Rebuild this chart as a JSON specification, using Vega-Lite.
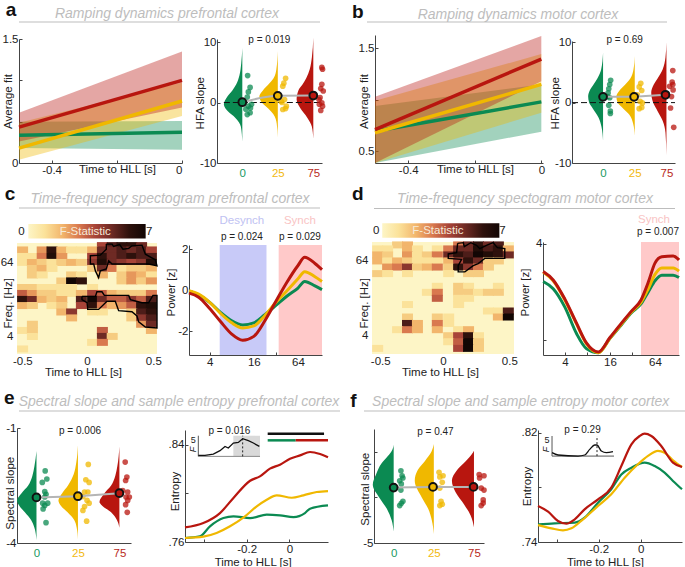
{"$schema":"https://vega.github.io/schema/vega-lite/v6.json","padding":0,"background":"white","columns":4,"spacing":0,"bounds":"flush","resolve":{"scale":{"color":"independent"}},
"datasets":{"e":[]},
"config":{"font":"Liberation Sans","view":{"stroke":null},"legend":{"disable":true},"axis":{"grid":false,"labelFontSize":11.5,"titleFontSize":11.5,"titleFontWeight":"normal","labelColor":"#222","titleColor":"#222","domainColor":"#444","tickColor":"#444","tickSize":-3,"labelPadding":4,"titleBaseline":"middle","titleAlign":"center","labelOverlap":false},"range":{"category":["#0b8a52","#f0b800","#b8160f"],"heatmap":["#fdf5c6","#fbe29a","#f2b56c","#d9794f","#a84438","#6e2a24","#2e110c","#120604"]},"text":{"color":"#222","fontSize":10}},
"concat":[
{"width":185,"height":34,"data":{"values":[{"t":"a","s":"Ramping dynamics prefrontal cortex"}]},"layer":[
{"mark":{"type":"rule","color":"#bdbdbd","strokeWidth":1},"encoding":{"x":{"datum":0,"scale":{"domain":[0,301],"range":[19,320],"nice":false,"zero":false},"axis":null},"x2":{"datum":301},"y":{"datum":21,"scale":{"domain":[34,0],"nice":false,"zero":false},"axis":null}}},
{"mark":{"type":"text","fontSize":14,"fontStyle":"italic","color":"#bdbdbd","baseline":"alphabetic"},"encoding":{"text":{"field":"s"},"x":{"datum":148,"axis":null},"y":{"datum":17,"axis":null}}},
{"mark":{"type":"text","fontSize":19,"fontWeight":"bold","color":"#111","baseline":"alphabetic"},"encoding":{"text":{"field":"t"},"x":{"datum":-8,"axis":null},"y":{"datum":14.5,"axis":null}}}]},
{"width":1,"height":1,"data":{"name":"e"},"mark":"text"},
{"width":166,"height":34,"data":{"values":[{"t":"b","s":"Ramping dynamics motor cortex"}]},"layer":[
{"mark":{"type":"rule","color":"#bdbdbd","strokeWidth":1},"encoding":{"x":{"datum":0,"scale":{"domain":[0,300],"range":[-5,295],"nice":false,"zero":false},"axis":null},"x2":{"datum":300},"y":{"datum":21,"scale":{"domain":[34,0],"nice":false,"zero":false},"axis":null}}},
{"mark":{"type":"text","fontSize":14,"fontStyle":"italic","color":"#bdbdbd","baseline":"alphabetic"},"encoding":{"text":{"field":"s"},"x":{"datum":151,"axis":null},"y":{"datum":18,"axis":null}}},
{"mark":{"type":"text","fontSize":19,"fontWeight":"bold","color":"#111","baseline":"alphabetic"},"encoding":{"text":{"field":"t"},"x":{"datum":-9.3,"axis":null},"y":{"datum":17.3,"axis":null}}}]},
{"width":1,"height":1,"data":{"name":"e"},"mark":"text"},

{"width":185,"height":128,"data":{"values":[
{"g":0,"t":-0.5,"v":0.336,"lo":0.18,"hi":0.5},{"g":0,"t":0,"v":0.373,"lo":0.16,"hi":0.507},
{"g":25,"t":-0.5,"v":0.18,"lo":0.04,"hi":0.486},{"g":25,"t":0,"v":0.75,"lo":0.57,"hi":0.973},
{"g":75,"t":-0.5,"v":0.434,"lo":0.26,"hi":0.608},{"g":75,"t":0,"v":1.0,"lo":0.67,"hi":1.35}]},
"layer":[
{"mark":{"type":"area","opacity":0.38},"encoding":{"x":{"field":"t","type":"quantitative","scale":{"domain":[-0.5,0],"range":[19,182],"nice":false,"zero":false},"axis":{"values":[-0.4,-0.2,0],"labelExpr":"datum.value==-0.2?'':datum.value==0?'0':'-0.4'","title":"Time to HLL [s]","titleX":117,"titleY":6.5}},"y":{"field":"lo","type":"quantitative","scale":{"domain":[0,1.5],"range":[128,4],"nice":false,"zero":false},"axis":{"offset":-19,"values":[0,0.5,1,1.5],"labelExpr":"datum.value==1.5?'1.5':datum.value==0?'0':''","title":"Average fit","titleX":-10.7,"titleY":66}},"y2":{"field":"hi"},"color":{"field":"g","type":"nominal"}}},
{"mark":{"type":"line","strokeWidth":3.5},"encoding":{"x":{"field":"t","type":"quantitative"},"y":{"field":"v","type":"quantitative"},"color":{"field":"g","type":"nominal"}}}]},
{"width":187,"height":128,"layer":[
{"data":{"values":[
{"g":0,"c":0,"l":0,"y":-6.5},{"g":0,"c":0,"l":-0.04,"y":-4},{"g":0,"c":0,"l":-0.2,"y":-2.5},{"g":0,"c":0,"l":-0.4,"y":-1.5},{"g":0,"c":0,"l":-0.52,"y":-0.3},{"g":0,"c":0,"l":-0.42,"y":1},{"g":0,"c":0,"l":-0.28,"y":2},{"g":0,"c":0,"l":-0.17,"y":3},{"g":0,"c":0,"l":-0.08,"y":4.5},{"g":0,"c":0,"l":-0.03,"y":6.5},{"g":0,"c":0,"l":0,"y":9},
{"g":25,"c":1,"l":1,"y":-5.8},{"g":25,"c":1,"l":0.97,"y":-3.5},{"g":25,"c":1,"l":0.88,"y":-2},{"g":25,"c":1,"l":0.73,"y":-1},{"g":25,"c":1,"l":0.55,"y":0},{"g":25,"c":1,"l":0.48,"y":1},{"g":25,"c":1,"l":0.58,"y":2},{"g":25,"c":1,"l":0.74,"y":3},{"g":25,"c":1,"l":0.88,"y":4},{"g":25,"c":1,"l":0.96,"y":5.5},{"g":25,"c":1,"l":1,"y":8.5},
{"g":75,"c":2,"l":2,"y":-6},{"g":75,"c":2,"l":1.96,"y":-4},{"g":75,"c":2,"l":1.83,"y":-2.5},{"g":75,"c":2,"l":1.64,"y":-1},{"g":75,"c":2,"l":1.53,"y":0.5},{"g":75,"c":2,"l":1.58,"y":2},{"g":75,"c":2,"l":1.7,"y":3},{"g":75,"c":2,"l":1.8,"y":4},{"g":75,"c":2,"l":1.9,"y":5.5},{"g":75,"c":2,"l":1.96,"y":7.5},{"g":75,"c":2,"l":2,"y":10.7}]},
"mark":{"type":"area","orient":"horizontal","interpolate":"monotone"},"encoding":{"y":{"field":"y","type":"quantitative","scale":{"domain":[-10,10.5],"range":[128,4],"nice":false,"zero":false},"axis":{"offset":-32,"values":[-10,-5,0,5,10],"labelExpr":"''+datum.value","title":"HFA slope","titleX":-16.3,"titleY":67.7}},"x":{"field":"l","type":"quantitative","scale":{"domain":[-0.713,2.245],"range":[32,137],"nice":false,"zero":false},"axis":{"values":[0,1,2],"ticks":false,"title":null,"labelExpr":"[0,25,75][datum.value]","labelColor":{"condition":[{"test":"datum.value==0","value":"#199a63"},{"test":"datum.value==1","value":"#f2b90f"}],"value":"#b92a22"}}},"x2":{"field":"c"},"color":{"field":"g","type":"nominal"}}},
{"data":{"values":[{}]},"mark":{"type":"rule","strokeDash":[6,3],"color":"#111","strokeWidth":1},"encoding":{"y":{"datum":0},"x":{"datum":-0.52},"x2":{"datum":2.245}}},
{"data":{"values":[
{"g":0,"x":0.15,"y":4.45},{"g":0,"x":0.22,"y":2.5},{"g":0,"x":0.17,"y":1.75},{"g":0,"x":0.14,"y":0.9},{"g":0,"x":0.26,"y":-0.3},{"g":0,"x":0.17,"y":-0.6},{"g":0,"x":0.23,"y":-0.9},{"g":0,"x":0.14,"y":-2},{"g":0,"x":0.22,"y":-1.7},{"g":0,"x":0.1,"y":-1.1},
{"g":25,"x":1.22,"y":4},{"g":25,"x":1.17,"y":3.2},{"g":25,"x":1.14,"y":2.7},{"g":25,"x":1.19,"y":0.5},{"g":25,"x":1.12,"y":0},{"g":25,"x":1.24,"y":-0.6},{"g":25,"x":1.14,"y":-1.15},{"g":25,"x":1.22,"y":-1},{"g":25,"x":1.09,"y":0.2},
{"g":75,"x":2.24,"y":5.8},{"g":75,"x":2.26,"y":5.5},{"g":75,"x":2.24,"y":3},{"g":75,"x":2.21,"y":2.3},{"g":75,"x":2.28,"y":1.9},{"g":75,"x":2.19,"y":0.8},{"g":75,"x":2.24,"y":-0.05},{"g":75,"x":2.17,"y":-0.3},{"g":75,"x":2.26,"y":-0.6},{"g":75,"x":2.21,"y":-1.3},{"g":75,"x":2.16,"y":0.5}]},
"mark":{"type":"circle","size":32,"opacity":0.75},"encoding":{"x":{"field":"x","type":"quantitative"},"y":{"field":"y","type":"quantitative"},"color":{"field":"g","type":"nominal"}}},
{"data":{"values":[{"g":0,"x":0,"y":0.05},{"g":25,"x":1,"y":1.1},{"g":75,"x":2,"y":1.15}]},"layer":[
{"mark":{"type":"line","color":"#b5b5b5","strokeWidth":2,"interpolate":"monotone"},"encoding":{"x":{"field":"x","type":"quantitative"},"y":{"field":"y","type":"quantitative"}}},
{"mark":{"type":"circle","size":60,"stroke":"#111","strokeWidth":2,"opacity":1},"encoding":{"x":{"field":"x","type":"quantitative"},"y":{"field":"y","type":"quantitative"},"color":{"field":"g","type":"nominal"}}}]},
{"data":{"values":[{"p":"p = 0.019"}]},"mark":{"type":"text"},"encoding":{"text":{"field":"p"},"x":{"datum":0.76},"y":{"datum":10.27}}}]},
{"width":166,"height":128,"data":{"values":[
{"g":0,"t":-0.5,"v":0.695,"lo":0.386,"hi":0.94},{"g":0,"t":0,"v":0.98,"lo":0.69,"hi":1.15},
{"g":25,"t":-0.5,"v":0.68,"lo":0.386,"hi":0.99},{"g":25,"t":0,"v":1.15,"lo":0.875,"hi":1.445},
{"g":75,"t":-0.5,"v":0.71,"lo":0.386,"hi":1.03},{"g":75,"t":0,"v":1.396,"lo":1.18,"hi":1.62}]},
"layer":[
{"mark":{"type":"area","opacity":0.38},"encoding":{"x":{"field":"t","type":"quantitative","scale":{"domain":[-0.5,0.005],"range":[3,171],"nice":false,"zero":false},"axis":{"values":[-0.4,-0.2,0],"labelExpr":"datum.value==-0.2?'':datum.value==0?'0':'-0.4'","title":"Time to HLL [s]","titleX":103,"titleY":6.5}},"y":{"field":"lo","type":"quantitative","scale":{"domain":[0.386,1.63],"range":[128,0],"nice":false,"zero":false},"axis":{"offset":-3,"values":[0.5,1,1.5],"labelExpr":"datum.value==1?'':datum.label","title":"Average fit","titleX":-10.7,"titleY":66}},"y2":{"field":"hi"},"color":{"field":"g","type":"nominal"}}},
{"mark":{"type":"line","strokeWidth":3.5},"encoding":{"x":{"field":"t","type":"quantitative"},"y":{"field":"v","type":"quantitative"},"color":{"field":"g","type":"nominal"}}}]},
{"width":147,"height":128,"layer":[
{"data":{"values":[
{"g":0,"c":0,"l":0,"y":-6.3},{"g":0,"c":0,"l":-0.05,"y":-4},{"g":0,"c":0,"l":-0.14,"y":-2.5},{"g":0,"c":0,"l":-0.32,"y":-1},{"g":0,"c":0,"l":-0.44,"y":0},{"g":0,"c":0,"l":-0.47,"y":1},{"g":0,"c":0,"l":-0.42,"y":2},{"g":0,"c":0,"l":-0.3,"y":3},{"g":0,"c":0,"l":-0.18,"y":4},{"g":0,"c":0,"l":-0.06,"y":5.5},{"g":0,"c":0,"l":0,"y":8.2},
{"g":25,"c":1,"l":1,"y":-5.5},{"g":25,"c":1,"l":0.95,"y":-3.5},{"g":25,"c":1,"l":0.83,"y":-2},{"g":25,"c":1,"l":0.64,"y":-1},{"g":25,"c":1,"l":0.46,"y":0},{"g":25,"c":1,"l":0.42,"y":1},{"g":25,"c":1,"l":0.52,"y":2},{"g":25,"c":1,"l":0.7,"y":3},{"g":25,"c":1,"l":0.86,"y":4},{"g":25,"c":1,"l":0.96,"y":5.5},{"g":25,"c":1,"l":1,"y":7.7},
{"g":75,"c":2,"l":2,"y":-8.7},{"g":75,"c":2,"l":1.97,"y":-5},{"g":75,"c":2,"l":1.88,"y":-3},{"g":75,"c":2,"l":1.73,"y":-1.5},{"g":75,"c":2,"l":1.58,"y":0},{"g":75,"c":2,"l":1.52,"y":1.7},{"g":75,"c":2,"l":1.6,"y":3},{"g":75,"c":2,"l":1.72,"y":4},{"g":75,"c":2,"l":1.88,"y":5.5},{"g":75,"c":2,"l":1.97,"y":7.5},{"g":75,"c":2,"l":2,"y":10}]},
"mark":{"type":"area","orient":"horizontal","interpolate":"monotone"},"encoding":{"y":{"field":"y","type":"quantitative","scale":{"domain":[-10,10.2],"range":[128,6],"nice":false,"zero":false},"axis":{"offset":-34,"values":[-10,-5,0,5,10],"labelExpr":"''+datum.value","title":"HFA slope","titleX":-16.3,"titleY":67.7}},"x":{"field":"l","type":"quantitative","scale":{"domain":[-0.98,2.27],"range":[34,137],"nice":false,"zero":false},"axis":{"values":[0,1,2],"ticks":false,"title":null,"labelExpr":"[0,25,75][datum.value]","labelColor":{"condition":[{"test":"datum.value==0","value":"#199a63"},{"test":"datum.value==1","value":"#f2b90f"}],"value":"#b92a22"}}},"x2":{"field":"c"},"color":{"field":"g","type":"nominal"}}},
{"data":{"values":[{}]},"mark":{"type":"rule","strokeDash":[6,3],"color":"#111","strokeWidth":1},"encoding":{"y":{"datum":0},"x":{"datum":-0.98},"x2":{"datum":2.27}}},
{"data":{"values":[
{"g":0,"x":0.24,"y":3.7},{"g":0,"x":0.21,"y":3},{"g":0,"x":0.18,"y":2.3},{"g":0,"x":0.16,"y":1.6},{"g":0,"x":0.14,"y":1},{"g":0,"x":0.21,"y":0.8},{"g":0,"x":0.18,"y":-0.45},{"g":0,"x":0.23,"y":-1.4},{"g":0,"x":0.23,"y":-1.8},
{"g":25,"x":1.19,"y":3.2},{"g":25,"x":1.14,"y":2.6},{"g":25,"x":1.22,"y":2},{"g":25,"x":1.08,"y":1.3},{"g":25,"x":1.17,"y":0.2},{"g":25,"x":1.24,"y":-0.05},{"g":25,"x":1.22,"y":-0.8},{"g":25,"x":1.14,"y":-1},
{"g":75,"x":2.2,"y":5.3},{"g":75,"x":2.18,"y":3.4},{"g":75,"x":2.2,"y":3},{"g":75,"x":2.1,"y":2.7},{"g":75,"x":2.21,"y":2.1},{"g":75,"x":2.16,"y":1},{"g":75,"x":2.13,"y":-0.9},{"g":75,"x":2.23,"y":-4.1}]},
"mark":{"type":"circle","size":32,"opacity":0.75},"encoding":{"x":{"field":"x","type":"quantitative"},"y":{"field":"y","type":"quantitative"},"color":{"field":"g","type":"nominal"}}},
{"data":{"values":[{"g":0,"x":0,"y":0.95},{"g":25,"x":0.98,"y":0.95},{"g":75,"x":1.97,"y":1.3}]},"layer":[
{"mark":{"type":"line","color":"#b5b5b5","strokeWidth":2},"encoding":{"x":{"field":"x","type":"quantitative"},"y":{"field":"y","type":"quantitative"}}},
{"mark":{"type":"circle","size":60,"stroke":"#111","strokeWidth":2,"opacity":1},"encoding":{"x":{"field":"x","type":"quantitative"},"y":{"field":"y","type":"quantitative"},"color":{"field":"g","type":"nominal"}}}]},
{"data":{"values":[{"p":"p = 0.69"}]},"mark":{"type":"text"},"encoding":{"text":{"field":"p"},"x":{"datum":0.68},"y":{"datum":10.3}}}]},

{"width":185,"height":79,"data":{"values":[{"t":"c","s":"Time-frequency spectogram prefrontal cortex"}]},"layer":[
{"mark":{"type":"rule","color":"#bdbdbd","strokeWidth":1},"encoding":{"x":{"datum":0,"scale":{"domain":[0,301],"range":[19,320],"nice":false,"zero":false},"axis":null},"x2":{"datum":301},"y":{"datum":45,"scale":{"domain":[79,0],"nice":false,"zero":false},"axis":null}}},
{"mark":{"type":"text","fontSize":14,"fontStyle":"italic","color":"#bdbdbd","baseline":"alphabetic"},"encoding":{"text":{"field":"s"},"x":{"datum":151,"axis":null},"y":{"datum":39.7,"axis":null}}},
{"mark":{"type":"text","fontSize":19,"fontWeight":"bold","color":"#111","baseline":"alphabetic"},"encoding":{"text":{"field":"t"},"x":{"datum":-9,"axis":null},"y":{"datum":37,"axis":null}}}]},
{"width":1,"height":1,"data":{"name":"e"},"mark":"text"},
{"width":166,"height":79,"data":{"values":[{"t":"d","s":"Time-frequency spectogram motor cortex"}]},"layer":[
{"mark":{"type":"rule","color":"#bdbdbd","strokeWidth":1},"encoding":{"x":{"datum":0,"scale":{"domain":[0,301],"range":[2,303],"nice":false,"zero":false},"axis":null},"x2":{"datum":301},"y":{"datum":45.5,"scale":{"domain":[79,0],"nice":false,"zero":false},"axis":null}}},
{"mark":{"type":"text","fontSize":14,"fontStyle":"italic","color":"#bdbdbd","baseline":"alphabetic"},"encoding":{"text":{"field":"s"},"x":{"datum":151,"axis":null},"y":{"datum":39.7,"axis":null}}},
{"mark":{"type":"text","fontSize":19,"fontWeight":"bold","color":"#111","baseline":"alphabetic"},"encoding":{"text":{"field":"t"},"x":{"datum":-16.3,"axis":null},"y":{"datum":37,"axis":null}}}]},
{"width":1,"height":1,"data":{"name":"e"},"mark":"text"},

{"width":185,"height":113,"layer":[
{"data":{"values":[{"u":2.07,"w":132.3,"a":-0.5,"b":0.5}]},"mark":{"type":"rect","color":"#fdf5c6"},"encoding":{"x":{"field":"a","type":"quantitative","scale":{"domain":[-0.5,0.5],"range":[17,157],"nice":false,"zero":false},"axis":{"values":[-0.462,0,0.474],"labelExpr":"datum.value<0?'-0.5':datum.value>0?'0.5':'0'","ticks":false,"domain":false,"labelPadding":1,"offset":-1,"title":"Time to HLL [s]","titleX":83,"titleY":18.7}},"x2":{"field":"b"},"y":{"field":"u","type":"quantitative","scale":{"type":"log","base":2,"domain":[2.07,132.3],"range":[112,1],"nice":false,"zero":false},"axis":{"offset":-17,"values":[4,64],"labelExpr":"datum.value","ticks":false,"domain":false,"labelPadding":4,"title":"Freq. [Hz]","titleX":-8.7,"titleY":60.7}},"y2":{"field":"w"}}},
{"data":{"values":[
{"t":0.11,"f":120,"v":4},{"t":0.18,"f":120,"v":5.5},{"t":0.25,"f":120,"v":6},{"t":0.32,"f":120,"v":6},{"t":0.39,"f":120,"v":5},
{"t":-0.46,"f":102,"v":2},{"t":-0.32,"f":102,"v":2.5},{"t":-0.25,"f":102,"v":6},{"t":-0.18,"f":102,"v":2},{"t":-0.11,"f":102,"v":1},{"t":-0.04,"f":102,"v":1},{"t":0.04,"f":102,"v":2},{"t":0.11,"f":102,"v":5},{"t":0.18,"f":102,"v":5},{"t":0.25,"f":102,"v":5.5},{"t":0.32,"f":102,"v":5},{"t":0.39,"f":102,"v":5.5},{"t":0.46,"f":102,"v":4},
{"t":-0.46,"f":80,"v":1},{"t":-0.39,"f":80,"v":1},{"t":-0.32,"f":80,"v":3},{"t":-0.25,"f":80,"v":6.5},{"t":-0.18,"f":80,"v":2.5},{"t":0.04,"f":80,"v":4},{"t":0.11,"f":80,"v":6},{"t":0.18,"f":80,"v":5},{"t":0.25,"f":80,"v":5.5},{"t":0.32,"f":80,"v":6},{"t":0.39,"f":80,"v":5.5},{"t":0.46,"f":80,"v":5.5},
{"t":-0.46,"f":64,"v":1},{"t":-0.39,"f":64,"v":2},{"t":-0.32,"f":64,"v":1.5},{"t":-0.25,"f":64,"v":1},{"t":-0.18,"f":64,"v":1.5},{"t":-0.11,"f":64,"v":2},{"t":-0.04,"f":64,"v":1.5},{"t":0.04,"f":64,"v":4.5},{"t":0.11,"f":64,"v":6.5},{"t":0.18,"f":64,"v":5},{"t":0.25,"f":64,"v":4.5},{"t":0.32,"f":64,"v":4},{"t":0.39,"f":64,"v":4.5},{"t":0.46,"f":64,"v":6.5},
{"t":-0.39,"f":51,"v":1.5},{"t":-0.32,"f":51,"v":2},{"t":-0.25,"f":51,"v":1},{"t":0.04,"f":51,"v":1.5},{"t":0.11,"f":51,"v":5},{"t":0.18,"f":51,"v":3},{"t":0.25,"f":51,"v":1},{"t":0.32,"f":51,"v":1.5},{"t":0.39,"f":51,"v":1.5},{"t":0.46,"f":51,"v":2},
{"t":-0.39,"f":40,"v":1.5},{"t":-0.32,"f":40,"v":1},{"t":-0.11,"f":40,"v":1.5},{"t":-0.04,"f":40,"v":1},{"t":0.11,"f":40,"v":2},{"t":0.25,"f":40,"v":1.5},{"t":0.32,"f":40,"v":2.5},{"t":0.39,"f":40,"v":2},{"t":0.46,"f":40,"v":1},
{"t":-0.18,"f":32,"v":1.5},{"t":-0.11,"f":32,"v":7},{"t":-0.04,"f":32,"v":6},{"t":0.25,"f":32,"v":1.5},{"t":0.32,"f":32,"v":2.5},{"t":0.39,"f":32,"v":1.5},{"t":0.46,"f":32,"v":2.5},
{"t":-0.46,"f":25,"v":1.5},{"t":-0.39,"f":25,"v":1.5},{"t":-0.32,"f":25,"v":1},{"t":-0.25,"f":25,"v":1},{"t":-0.18,"f":25,"v":1},{"t":-0.11,"f":25,"v":1},{"t":0.04,"f":25,"v":1},
{"t":-0.46,"f":20,"v":3.5},{"t":-0.39,"f":20,"v":2.5},{"t":-0.32,"f":20,"v":1.5},{"t":-0.25,"f":20,"v":1.5},{"t":-0.18,"f":20,"v":1},{"t":-0.11,"f":20,"v":1},{"t":-0.04,"f":20,"v":2},{"t":0.04,"f":20,"v":4},{"t":0.11,"f":20,"v":3.5},{"t":0.18,"f":20,"v":2},{"t":0.25,"f":20,"v":1.5},{"t":0.32,"f":20,"v":1.5},{"t":0.39,"f":20,"v":1.5},{"t":0.46,"f":20,"v":3},
{"t":-0.46,"f":16,"v":6},{"t":-0.39,"f":16,"v":5},{"t":-0.32,"f":16,"v":2},{"t":-0.25,"f":16,"v":1.5},{"t":-0.18,"f":16,"v":2},{"t":-0.04,"f":16,"v":5.5},{"t":0.04,"f":16,"v":7},{"t":0.11,"f":16,"v":5},{"t":0.18,"f":16,"v":3.5},{"t":0.25,"f":16,"v":3.5},{"t":0.32,"f":16,"v":4.5},{"t":0.39,"f":16,"v":3.5},{"t":0.46,"f":16,"v":5.5},
{"t":-0.46,"f":12.7,"v":2},{"t":-0.39,"f":12.7,"v":1.5},{"t":-0.25,"f":12.7,"v":1},{"t":-0.18,"f":12.7,"v":1.5},{"t":-0.04,"f":12.7,"v":4},{"t":0.04,"f":12.7,"v":6},{"t":0.11,"f":12.7,"v":3},{"t":0.18,"f":12.7,"v":2},{"t":0.25,"f":12.7,"v":2.5},{"t":0.32,"f":12.7,"v":3.5},{"t":0.39,"f":12.7,"v":6},{"t":0.46,"f":12.7,"v":6.5},
{"t":-0.18,"f":10,"v":2},{"t":-0.11,"f":10,"v":4.5},{"t":0.04,"f":10,"v":1},{"t":0.11,"f":10,"v":1},{"t":0.32,"f":10,"v":1.5},{"t":0.39,"f":10,"v":5.5},{"t":0.46,"f":10,"v":6},
{"t":-0.11,"f":8,"v":2},{"t":0.32,"f":8,"v":1.5},{"t":0.39,"f":8,"v":4.5},{"t":0.46,"f":8,"v":5.5},
{"t":-0.39,"f":6.3,"v":1.5},{"t":0.39,"f":6.3,"v":2.5},{"t":0.46,"f":6.3,"v":5},
{"t":-0.46,"f":5,"v":1},{"t":-0.39,"f":5,"v":1.5},{"t":0.11,"f":5,"v":3.5},{"t":0.46,"f":5,"v":2},
{"t":-0.39,"f":4,"v":1},{"t":0.11,"f":4,"v":5},{"t":0.18,"f":4,"v":1.5},
{"t":0.04,"f":3.2,"v":1},{"t":0.11,"f":3.2,"v":3},
{"t":-0.46,"f":2.5,"v":1}]},
"mark":{"type":"rect","width":11,"height":7},"encoding":{"x":{"field":"t","type":"quantitative"},"y":{"field":"f","type":"quantitative"},"color":{"field":"v","type":"quantitative","scale":{"domain":[0,7]}}}},
{"data":{"values":[
{"i":1,"o":1,"t":0.138,"f":127},{"i":1,"o":2,"t":0.179,"f":127},{"i":1,"o":3,"t":0.19,"f":116},{"i":1,"o":4,"t":0.233,"f":125},{"i":1,"o":5,"t":0.257,"f":105},{"i":1,"o":6,"t":0.298,"f":108},{"i":1,"o":7,"t":0.321,"f":119},{"i":1,"o":8,"t":0.393,"f":122},{"i":1,"o":9,"t":0.417,"f":87},{"i":1,"o":10,"t":0.488,"f":70.6},{"i":1,"o":11,"t":0.5,"f":56.5},{"i":1,"o":12,"t":0.44,"f":60.2},{"i":1,"o":13,"t":0.179,"f":60.2},{"i":1,"o":14,"t":0.155,"f":68},{"i":1,"o":15,"t":0.138,"f":50},{"i":1,"o":16,"t":0.095,"f":46.5},{"i":1,"o":17,"t":0.083,"f":36},{"i":1,"o":18,"t":0.06,"f":46.5},{"i":1,"o":19,"t":0.048,"f":60.2},{"i":1,"o":20,"t":0.024,"f":60.2},{"i":1,"o":21,"t":0.024,"f":82},{"i":1,"o":22,"t":0.095,"f":84},{"i":1,"o":23,"t":0.138,"f":105},{"i":1,"o":24,"t":0.138,"f":127},
{"i":2,"o":1,"t":-0.036,"f":17.9},{"i":2,"o":2,"t":0.06,"f":17.9},{"i":2,"o":3,"t":0.071,"f":21.3},{"i":2,"o":4,"t":0.107,"f":21.3},{"i":2,"o":5,"t":0.124,"f":18.6},{"i":2,"o":6,"t":0.298,"f":18.6},{"i":2,"o":7,"t":0.31,"f":15.9},{"i":2,"o":8,"t":0.393,"f":14.1},{"i":2,"o":9,"t":0.44,"f":14.1},{"i":2,"o":10,"t":0.471,"f":18.6},{"i":2,"o":11,"t":0.5,"f":18.6},{"i":2,"o":12,"t":0.5,"f":5.5},{"i":2,"o":13,"t":0.417,"f":5.7},{"i":2,"o":14,"t":0.369,"f":6.9},{"i":2,"o":15,"t":0.357,"f":8.6},{"i":2,"o":16,"t":0.321,"f":10.1},{"i":2,"o":17,"t":0.226,"f":10.5},{"i":2,"o":18,"t":0.202,"f":14.9},{"i":2,"o":19,"t":0.143,"f":14.9},{"i":2,"o":20,"t":0.083,"f":11},{"i":2,"o":21,"t":0.005,"f":11},{"i":2,"o":22,"t":0,"f":14.1},{"i":2,"o":23,"t":-0.036,"f":15.9},{"i":2,"o":24,"t":-0.036,"f":17.9}]},
"mark":{"type":"line","color":"#000","strokeWidth":1.4},"encoding":{"x":{"field":"t","type":"quantitative"},"y":{"field":"f","type":"quantitative"},"detail":{"field":"i"},"order":{"field":"o"}}},
{"data":{"values":[{}]},"mark":{"type":"rect","fill":{"x1":0,"x2":1,"y1":0,"y2":0,"gradient":"linear","stops":[{"offset":0,"color":"#fdf5c6"},{"offset":0.14,"color":"#fbe29a"},{"offset":0.29,"color":"#f2b56c"},{"offset":0.43,"color":"#d9794f"},{"offset":0.57,"color":"#a84438"},{"offset":0.71,"color":"#6e2a24"},{"offset":0.86,"color":"#2e110c"},{"offset":1,"color":"#120604"}]}},"encoding":{"x":{"datum":-0.419},"x2":{"datum":0.419},"y":{"datum":157},"y2":{"datum":270}}},
{"data":{"values":[{"s":"F-Statistic"}]},"mark":{"type":"text","fontSize":11.5,"color":"#f6ead8"},"encoding":{"text":{"field":"s"},"x":{"datum":-0.012},"y":{"datum":202}}},
{"data":{"values":[{"s":"0"}]},"mark":{"type":"text","fontSize":11.5},"encoding":{"text":{"field":"s"},"x":{"datum":-0.469},"y":{"datum":202}}},
{"data":{"values":[{"s":"7"}]},"mark":{"type":"text","fontSize":11.5},"encoding":{"text":{"field":"s"},"x":{"datum":0.444},"y":{"datum":202}}}]},
{"width":187,"height":113,"layer":[
{"data":{"values":[{"a":5.48,"b":23.8,"u":-3.17,"w":2.2}]},"mark":{"type":"rect","color":"#c8caf8"},"encoding":{"x":{"field":"a","type":"quantitative","scale":{"type":"log","base":2,"domain":[2.09,136],"range":[4,137],"nice":false,"zero":false},"axis":{"values":[4,8,16,32,64],"labelExpr":"datum.value==8||datum.value==32?'':datum.value","title":null}},"x2":{"field":"b"},"y":{"field":"u","type":"quantitative","scale":{"domain":[-3.17,2.2],"range":[113,3],"nice":false,"zero":false},"axis":{"offset":-4,"values":[-2,0,2],"labelExpr":"''+datum.value","title":"Power [z]","titleX":-17.3,"titleY":50}},"y2":{"field":"w"}}},
{"data":{"values":[{"a":34.9,"b":136,"u":-3.17,"w":2.2}]},"mark":{"type":"rect","color":"#ffc9c9"},"encoding":{"x":{"field":"a","type":"quantitative"},"x2":{"field":"b"},"y":{"field":"u","type":"quantitative"},"y2":{"field":"w"}}},
{"data":{"values":[
{"g":0,"f":2.09,"z":-0.1},{"g":0,"f":2.83,"z":-0.25},{"g":0,"f":4,"z":-0.6},{"g":0,"f":5.66,"z":-1.1},{"g":0,"f":8,"z":-1.5},{"g":0,"f":11.3,"z":-1.7},{"g":0,"f":16,"z":-1.6},{"g":0,"f":22.6,"z":-1.2},{"g":0,"f":32,"z":-0.75},{"g":0,"f":45,"z":-0.3},{"g":0,"f":64,"z":0.1},{"g":0,"f":79,"z":0.42},{"g":0,"f":109,"z":0.2},{"g":0,"f":136,"z":0.02},
{"g":25,"f":2.09,"z":-0.03},{"g":25,"f":2.83,"z":-0.2},{"g":25,"f":4,"z":-0.6},{"g":25,"f":5.66,"z":-1.15},{"g":25,"f":8,"z":-1.6},{"g":25,"f":11.3,"z":-1.85},{"g":25,"f":16,"z":-1.75},{"g":25,"f":22.6,"z":-1.25},{"g":25,"f":32,"z":-0.6},{"g":25,"f":45,"z":-0.05},{"g":25,"f":64,"z":0.55},{"g":25,"f":79,"z":0.9},{"g":25,"f":109,"z":0.65},{"g":25,"f":136,"z":0.42},
{"g":75,"f":2.09,"z":-0.15},{"g":75,"f":2.83,"z":-0.35},{"g":75,"f":4,"z":-0.9},{"g":75,"f":5.66,"z":-1.55},{"g":75,"f":8,"z":-2.15},{"g":75,"f":11.3,"z":-2.45},{"g":75,"f":16,"z":-2.26},{"g":75,"f":22.6,"z":-1.5},{"g":75,"f":32,"z":-0.55},{"g":75,"f":45,"z":0.37},{"g":75,"f":64,"z":1.2},{"g":75,"f":79,"z":1.6},{"g":75,"f":109,"z":1.3},{"g":75,"f":136,"z":1}]},
"mark":{"type":"line","strokeWidth":3,"interpolate":"monotone"},"encoding":{"x":{"field":"f","type":"quantitative"},"y":{"field":"z","type":"quantitative"},"color":{"field":"g","type":"nominal"}}},
{"data":{"values":[{"s":"Desynch"}]},"mark":{"type":"text","fontSize":11.5,"color":"#c0c2f2"},"encoding":{"text":{"field":"s"},"x":{"datum":11},"y":{"datum":3.38}}},
{"data":{"values":[{"s":"Synch"}]},"mark":{"type":"text","fontSize":11.5,"color":"#f9c4c4"},"encoding":{"text":{"field":"s"},"x":{"datum":68},"y":{"datum":3.38}}},
{"data":{"values":[{"s":"p = 0.024"}]},"mark":{"type":"text"},"encoding":{"text":{"field":"s"},"x":{"datum":11},"y":{"datum":2.61}}},
{"data":{"values":[{"s":"p = 0.029"}]},"mark":{"type":"text"},"encoding":{"text":{"field":"s"},"x":{"datum":68},"y":{"datum":2.61}}}]},
{"width":166,"height":113,"layer":[
{"data":{"values":[{"u":2.03,"w":129.2,"a":-0.5,"b":0.5}]},"mark":{"type":"rect","color":"#fdf5c6"},"encoding":{"x":{"field":"a","type":"quantitative","scale":{"domain":[-0.5,0.5],"range":[0,142],"nice":false,"zero":false},"axis":{"values":[-0.442,0,0.467],"labelExpr":"datum.value<0?'-0.5':datum.value>0?'0.5':'0'","ticks":false,"domain":false,"labelPadding":1,"offset":-1,"title":"Time to HLL [s]","titleX":68,"titleY":18.7}},"x2":{"field":"b"},"y":{"field":"u","type":"quantitative","scale":{"type":"log","base":2,"domain":[2.03,129.2],"range":[112,0],"nice":false,"zero":false},"axis":{"values":[4,64],"labelExpr":"datum.value","ticks":false,"domain":false,"labelPadding":4,"title":"Freq. [Hz]","titleX":-7.7,"titleY":60.7}},"y2":{"field":"w"}}},
{"data":{"values":[
{"t":-0.32,"f":116,"v":1.5},{"t":-0.25,"f":116,"v":2},{"t":0.11,"f":116,"v":3},{"t":0.18,"f":116,"v":5},{"t":0.25,"f":116,"v":6},{"t":0.32,"f":116,"v":5},{"t":0.39,"f":116,"v":5.5},
{"t":-0.46,"f":100,"v":1},{"t":-0.39,"f":100,"v":1},{"t":-0.25,"f":100,"v":2},{"t":-0.18,"f":100,"v":1},{"t":-0.04,"f":100,"v":1},{"t":0.04,"f":100,"v":3},{"t":0.11,"f":100,"v":5},{"t":0.18,"f":100,"v":5},{"t":0.25,"f":100,"v":6.5},{"t":0.32,"f":100,"v":5.5},{"t":0.39,"f":100,"v":6},{"t":0.46,"f":100,"v":2},
{"t":-0.46,"f":80,"v":2},{"t":-0.39,"f":80,"v":1.5},{"t":-0.25,"f":80,"v":2.5},{"t":-0.18,"f":80,"v":1},{"t":-0.11,"f":80,"v":1.5},{"t":-0.04,"f":80,"v":3},{"t":0.04,"f":80,"v":5},{"t":0.11,"f":80,"v":6},{"t":0.18,"f":80,"v":5.5},{"t":0.25,"f":80,"v":7},{"t":0.32,"f":80,"v":6.5},{"t":0.39,"f":80,"v":6},{"t":0.46,"f":80,"v":5},
{"t":-0.46,"f":64,"v":2},{"t":-0.39,"f":64,"v":1},{"t":-0.32,"f":64,"v":2},{"t":-0.25,"f":64,"v":1.5},{"t":-0.18,"f":64,"v":1},{"t":-0.11,"f":64,"v":1},{"t":-0.04,"f":64,"v":1},{"t":0.04,"f":64,"v":2},{"t":0.11,"f":64,"v":4},{"t":0.18,"f":64,"v":6},{"t":0.25,"f":64,"v":5},{"t":0.32,"f":64,"v":1.5},{"t":0.39,"f":64,"v":1.5},
{"t":-0.39,"f":51,"v":2.5},{"t":-0.32,"f":51,"v":3},{"t":-0.25,"f":51,"v":4.5},{"t":-0.18,"f":51,"v":1.5},{"t":-0.11,"f":51,"v":2},{"t":-0.04,"f":51,"v":3},{"t":0.04,"f":51,"v":1.5},{"t":0.11,"f":51,"v":6},{"t":0.18,"f":51,"v":4.5},{"t":0.25,"f":51,"v":3},{"t":0.32,"f":51,"v":1.5},
{"t":-0.46,"f":40,"v":1.5},{"t":-0.39,"f":40,"v":1},{"t":-0.25,"f":40,"v":1},{"t":0.04,"f":40,"v":1},{"t":0.18,"f":40,"v":1.5},{"t":0.25,"f":40,"v":1.5},
{"t":-0.04,"f":25,"v":1},{"t":0.11,"f":25,"v":1.5},{"t":0.18,"f":25,"v":1},{"t":0.39,"f":25,"v":1},
{"t":-0.11,"f":20,"v":1},{"t":-0.04,"f":20,"v":3},{"t":0.11,"f":20,"v":1.5},{"t":0.18,"f":20,"v":1.5},{"t":0.25,"f":20,"v":1},{"t":0.32,"f":20,"v":1.5},{"t":0.39,"f":20,"v":1.5},
{"t":-0.04,"f":16,"v":3.5},{"t":0.11,"f":16,"v":1},{"t":0.18,"f":16,"v":1},
{"t":-0.25,"f":12.7,"v":1},{"t":0.11,"f":12.7,"v":1},
{"t":0.32,"f":10,"v":1},{"t":0.39,"f":10,"v":1},{"t":0.46,"f":10,"v":5.5},
{"t":-0.25,"f":8,"v":1.5},{"t":-0.04,"f":8,"v":1.5},{"t":0.04,"f":8,"v":1},{"t":0.39,"f":8,"v":2},{"t":0.46,"f":8,"v":7},
{"t":-0.25,"f":6.3,"v":5.5},{"t":-0.18,"f":6.3,"v":2},{"t":-0.04,"f":6.3,"v":3},{"t":0.04,"f":6.3,"v":1},
{"t":-0.32,"f":5,"v":1},{"t":-0.25,"f":5,"v":3},{"t":-0.18,"f":5,"v":2},{"t":-0.04,"f":5,"v":2},{"t":0.11,"f":5,"v":1},{"t":0.18,"f":5,"v":2},
{"t":0.04,"f":4,"v":1.5},{"t":0.11,"f":4,"v":4},{"t":0.18,"f":4,"v":6},{"t":0.25,"f":4,"v":1},
{"t":0.04,"f":3.2,"v":1},{"t":0.11,"f":3.2,"v":3.5},{"t":0.18,"f":3.2,"v":7},{"t":0.25,"f":3.2,"v":1.5},
{"t":-0.46,"f":2.5,"v":1},{"t":0.11,"f":2.5,"v":4},{"t":0.18,"f":2.5,"v":7},{"t":0.25,"f":2.5,"v":1.5}]},
"mark":{"type":"rect","width":11,"height":7},"encoding":{"x":{"field":"t","type":"quantitative"},"y":{"field":"f","type":"quantitative"},"color":{"field":"v","type":"quantitative","scale":{"domain":[0,7]}}}},
{"data":{"values":[
{"i":1,"o":1,"t":0.103,"f":122.9},{"i":1,"o":2,"t":0.143,"f":126},{"i":1,"o":3,"t":0.15,"f":108.9},{"i":1,"o":4,"t":0.196,"f":126},{"i":1,"o":5,"t":0.236,"f":114},{"i":1,"o":6,"t":0.259,"f":101},{"i":1,"o":7,"t":0.306,"f":114},{"i":1,"o":8,"t":0.353,"f":126},{"i":1,"o":9,"t":0.383,"f":104.8},{"i":1,"o":10,"t":0.435,"f":101},{"i":1,"o":11,"t":0.435,"f":70.5},{"i":1,"o":12,"t":0.294,"f":70.5},{"i":1,"o":13,"t":0.248,"f":58},{"i":1,"o":14,"t":0.213,"f":53.7},{"i":1,"o":15,"t":0.154,"f":42.7},{"i":1,"o":16,"t":0.107,"f":42.7},{"i":1,"o":17,"t":0.107,"f":53.7},{"i":1,"o":18,"t":0.131,"f":68},{"i":1,"o":19,"t":0.037,"f":70.5},{"i":1,"o":20,"t":0.037,"f":83},{"i":1,"o":21,"t":0.096,"f":87},{"i":1,"o":22,"t":0.103,"f":122.9}]},
"mark":{"type":"line","color":"#000","strokeWidth":1.4},"encoding":{"x":{"field":"t","type":"quantitative"},"y":{"field":"f","type":"quantitative"},"detail":{"field":"i"},"order":{"field":"o"}}},
{"data":{"values":[{}]},"mark":{"type":"rect","fill":{"x1":0,"x2":1,"y1":0,"y2":0,"gradient":"linear","stops":[{"offset":0,"color":"#fdf5c6"},{"offset":0.14,"color":"#fbe29a"},{"offset":0.29,"color":"#f2b56c"},{"offset":0.43,"color":"#d9794f"},{"offset":0.57,"color":"#a84438"},{"offset":0.71,"color":"#6e2a24"},{"offset":0.86,"color":"#2e110c"},{"offset":1,"color":"#120604"}]}},"encoding":{"x":{"datum":-0.428},"x2":{"datum":0.397},"y":{"datum":151},"y2":{"datum":258}}},
{"data":{"values":[{"s":"F-Statistic"}]},"mark":{"type":"text","fontSize":11.5,"color":"#f6ead8"},"encoding":{"text":{"field":"s"},"x":{"datum":-0.036},"y":{"datum":194}}},
{"data":{"values":[{"s":"0"}]},"mark":{"type":"text","fontSize":11.5},"encoding":{"text":{"field":"s"},"x":{"datum":-0.47},"y":{"datum":194}}},
{"data":{"values":[{"s":"7"}]},"mark":{"type":"text","fontSize":11.5},"encoding":{"text":{"field":"s"},"x":{"datum":0.418},"y":{"datum":194}}}]},
{"width":147,"height":113,"layer":[
{"data":{"values":[{"a":41.6,"b":134,"u":-2.94,"w":4.12}]},"mark":{"type":"rect","color":"#ffc9c9"},"encoding":{"x":{"field":"a","type":"quantitative","scale":{"type":"log","base":2,"domain":[2.04,134],"range":[5,141],"nice":false,"zero":false},"axis":{"values":[4,8,16,32,64],"labelExpr":"datum.value==8||datum.value==32?'':datum.value","title":null}},"x2":{"field":"b"},"y":{"field":"u","type":"quantitative","scale":{"domain":[-2.94,4.12],"range":[113,0],"nice":false,"zero":false},"axis":{"offset":-5,"values":[-2,0,2,4],"labelExpr":"datum.value==-2||datum.value==2?'':''+datum.value","title":"Power [z]","titleX":-17.3,"titleY":50}},"y2":{"field":"w"}}},
{"data":{"values":[
{"g":0,"f":2.05,"z":1.65},{"g":0,"f":2.79,"z":1.2},{"g":0,"f":4,"z":0.05},{"g":0,"f":5.72,"z":-1.6},{"g":0,"f":7.8,"z":-2.55},{"g":0,"f":11.2,"z":-2.8},{"g":0,"f":16,"z":-1.9},{"g":0,"f":22.8,"z":-1.05},{"g":0,"f":31,"z":-0.3},{"g":0,"f":41.6,"z":0.25},{"g":0,"f":52,"z":1},{"g":0,"f":64,"z":1.7},{"g":0,"f":79,"z":2.05},{"g":0,"f":112,"z":2.05},{"g":0,"f":134,"z":1.9},
{"g":25,"f":2.05,"z":2.25},{"g":25,"f":2.79,"z":1.7},{"g":25,"f":4,"z":0.5},{"g":25,"f":5.72,"z":-1},{"g":25,"f":7.8,"z":-2.25},{"g":25,"f":11.2,"z":-2.8},{"g":25,"f":16,"z":-1.9},{"g":25,"f":22.8,"z":-1},{"g":25,"f":31,"z":-0.25},{"g":25,"f":41.6,"z":0.35},{"g":25,"f":52,"z":1.2},{"g":25,"f":64,"z":2.1},{"g":25,"f":79,"z":2.5},{"g":25,"f":112,"z":2.5},{"g":25,"f":134,"z":2.3},
{"g":75,"f":2.05,"z":2.27},{"g":75,"f":2.79,"z":1.75},{"g":75,"f":4,"z":0.55},{"g":75,"f":5.72,"z":-0.95},{"g":75,"f":7.8,"z":-2.2},{"g":75,"f":11.2,"z":-2.75},{"g":75,"f":16,"z":-1.85},{"g":75,"f":22.8,"z":-0.95},{"g":75,"f":31,"z":-0.2},{"g":75,"f":41.6,"z":0.5},{"g":75,"f":52,"z":1.6},{"g":75,"f":64,"z":2.8},{"g":75,"f":79,"z":3.2},{"g":75,"f":112,"z":3.25},{"g":75,"f":134,"z":3}]},
"mark":{"type":"line","strokeWidth":3,"interpolate":"monotone"},"encoding":{"x":{"field":"f","type":"quantitative"},"y":{"field":"z","type":"quantitative"},"color":{"field":"g","type":"nominal"}}},
{"data":{"values":[{"s":"Synch"}]},"mark":{"type":"text","fontSize":11.5,"color":"#f9c4c4"},"encoding":{"text":{"field":"s"},"x":{"datum":62},"y":{"datum":5.52}}},
{"data":{"values":[{"s":"p = 0.007"}]},"mark":{"type":"text"},"encoding":{"text":{"field":"s"},"x":{"datum":70.2},"y":{"datum":4.72}}}]},

{"width":185,"height":73,"data":{"values":[{"t":"e","s":"Spectral slope and sample entropy prefrontal cortex"}]},"layer":[
{"mark":{"type":"rule","color":"#bdbdbd","strokeWidth":1},"encoding":{"x":{"datum":0,"scale":{"domain":[0,321],"range":[19,340],"nice":false,"zero":false},"axis":null},"x2":{"datum":321},"y":{"datum":56,"scale":{"domain":[73,0],"nice":false,"zero":false},"axis":null}}},
{"mark":{"type":"text","fontSize":14,"fontStyle":"italic","color":"#bdbdbd","baseline":"alphabetic"},"encoding":{"text":{"field":"s"},"x":{"datum":160,"axis":null},"y":{"datum":51,"axis":null}}},
{"mark":{"type":"text","fontSize":19,"fontWeight":"bold","color":"#111","baseline":"alphabetic"},"encoding":{"text":{"field":"t"},"x":{"datum":-9.7,"axis":null},"y":{"datum":48.7,"axis":null}}}]},
{"width":1,"height":1,"data":{"name":"e"},"mark":"text"},
{"width":166,"height":73,"data":{"values":[{"t":"f","s":"Spectral slope and sample entropy motor cortex"}]},"layer":[
{"mark":{"type":"rule","color":"#bdbdbd","strokeWidth":1},"encoding":{"x":{"datum":0,"scale":{"domain":[0,321],"range":[-8,313],"nice":false,"zero":false},"axis":null},"x2":{"datum":321},"y":{"datum":56,"scale":{"domain":[73,0],"nice":false,"zero":false},"axis":null}}},
{"mark":{"type":"text","fontSize":14,"fontStyle":"italic","color":"#bdbdbd","baseline":"alphabetic"},"encoding":{"text":{"field":"s"},"x":{"datum":156.7,"axis":null},"y":{"datum":51,"axis":null}}},
{"mark":{"type":"text","fontSize":19,"fontWeight":"bold","color":"#111","baseline":"alphabetic"},"encoding":{"text":{"field":"t"},"x":{"datum":-10.7,"axis":null},"y":{"datum":52,"axis":null}}}]},
{"width":1,"height":1,"data":{"name":"e"},"mark":"text"},

{"width":185,"height":115,"layer":[
{"data":{"values":[
{"g":0,"c":0,"l":0,"y":-3.92},{"g":0,"c":0,"l":-0.05,"y":-3.6},{"g":0,"c":0,"l":-0.13,"y":-3.4},{"g":0,"c":0,"l":-0.28,"y":-3.2},{"g":0,"c":0,"l":-0.43,"y":-3},{"g":0,"c":0,"l":-0.47,"y":-2.89},{"g":0,"c":0,"l":-0.36,"y":-2.7},{"g":0,"c":0,"l":-0.2,"y":-2.5},{"g":0,"c":0,"l":-0.1,"y":-2.25},{"g":0,"c":0,"l":-0.05,"y":-2},{"g":0,"c":0,"l":0,"y":-1.6},
{"g":25,"c":1,"l":1,"y":-3.9},{"g":25,"c":1,"l":0.97,"y":-3.6},{"g":25,"c":1,"l":0.91,"y":-3.4},{"g":25,"c":1,"l":0.75,"y":-3.2},{"g":25,"c":1,"l":0.57,"y":-3},{"g":25,"c":1,"l":0.53,"y":-2.89},{"g":25,"c":1,"l":0.62,"y":-2.7},{"g":25,"c":1,"l":0.76,"y":-2.5},{"g":25,"c":1,"l":0.9,"y":-2.2},{"g":25,"c":1,"l":0.96,"y":-1.9},{"g":25,"c":1,"l":1,"y":-1.45},
{"g":75,"c":2,"l":2,"y":-3.6},{"g":75,"c":2,"l":1.94,"y":-3.4},{"g":75,"c":2,"l":1.8,"y":-3.2},{"g":75,"c":2,"l":1.56,"y":-3},{"g":75,"c":2,"l":1.52,"y":-2.93},{"g":75,"c":2,"l":1.64,"y":-2.7},{"g":75,"c":2,"l":1.8,"y":-2.5},{"g":75,"c":2,"l":1.9,"y":-2.25},{"g":75,"c":2,"l":1.95,"y":-2},{"g":75,"c":2,"l":2,"y":-1.48}]},
"mark":{"type":"area","orient":"horizontal","interpolate":"monotone"},"encoding":{"y":{"field":"y","type":"quantitative","scale":{"domain":[-4,-1],"range":[115,0],"nice":false,"zero":false},"axis":{"offset":-17,"values":[-4,-3,-2,-1],"labelExpr":"datum.value==-3||datum.value==-2?'':''+datum.value","title":"Spectral slope","titleX":-7,"titleY":64.7}},"x":{"field":"l","type":"quantitative","scale":{"domain":[-0.47,2.28],"range":[17,131],"nice":false,"zero":false},"axis":{"values":[0,1,2],"ticks":false,"title":null,"labelExpr":"[0,25,75][datum.value]","labelColor":{"condition":[{"test":"datum.value==0","value":"#199a63"},{"test":"datum.value==1","value":"#f2b90f"}],"value":"#b92a22"}}},"x2":{"field":"c"},"color":{"field":"g","type":"nominal"}}},
{"data":{"values":[
{"g":0,"x":0.21,"y":-2.12},{"g":0,"x":0.25,"y":-2.33},{"g":0,"x":0.14,"y":-2.42},{"g":0,"x":0.2,"y":-2.66},{"g":0,"x":0.23,"y":-2.73},{"g":0,"x":0.2,"y":-2.8},{"g":0,"x":0.15,"y":-2.96},{"g":0,"x":0.27,"y":-2.96},{"g":0,"x":0.2,"y":-3.02},{"g":0,"x":0.16,"y":-3.11},{"g":0,"x":0.23,"y":-3.47},
{"g":25,"x":1.25,"y":-1.95},{"g":25,"x":1.19,"y":-2.35},{"g":25,"x":1.27,"y":-2.42},{"g":25,"x":1.16,"y":-2.67},{"g":25,"x":1.24,"y":-2.67},{"g":25,"x":1.12,"y":-2.79},{"g":25,"x":1.22,"y":-2.89},{"g":25,"x":1.27,"y":-2.96},{"g":25,"x":1.16,"y":-3.05},{"g":25,"x":1.12,"y":-3.15},{"g":25,"x":1.21,"y":-3.43},
{"g":75,"x":2.14,"y":-1.89},{"g":75,"x":2.18,"y":-2.28},{"g":75,"x":2.15,"y":-2.37},{"g":75,"x":2.08,"y":-2.63},{"g":75,"x":2.2,"y":-2.67},{"g":75,"x":2.24,"y":-2.8},{"g":75,"x":2.16,"y":-2.8},{"g":75,"x":2.2,"y":-2.89},{"g":75,"x":2.15,"y":-3},{"g":75,"x":2.19,"y":-3.2}]},
"mark":{"type":"circle","size":32,"opacity":0.75},"encoding":{"x":{"field":"x","type":"quantitative"},"y":{"field":"y","type":"quantitative"},"color":{"field":"g","type":"nominal"}}},
{"data":{"values":[{"g":0,"x":0,"y":-2.81},{"g":25,"x":1,"y":-2.78},{"g":75,"x":2,"y":-2.7}]},"layer":[
{"mark":{"type":"line","color":"#b5b5b5","strokeWidth":2},"encoding":{"x":{"field":"x","type":"quantitative"},"y":{"field":"y","type":"quantitative"}}},
{"mark":{"type":"circle","size":60,"stroke":"#111","strokeWidth":2,"opacity":1},"encoding":{"x":{"field":"x","type":"quantitative"},"y":{"field":"y","type":"quantitative"},"color":{"field":"g","type":"nominal"}}}]},
{"data":{"values":[{"p":"p = 0.006"}]},"mark":{"type":"text"},"encoding":{"text":{"field":"p"},"x":{"datum":1.05},"y":{"datum":-1.08}}}]},
{"width":187,"height":115,"layer":[
{"data":{"values":[{"a":-0.2625,"b":-0.1375,"u":0.8304,"w":0.8474}]},"mark":{"type":"rect","color":"#d9d9d9"},"encoding":{"x":{"field":"a","type":"quantitative","scale":{"domain":[-0.489,0.181],"range":[0,143],"nice":false,"zero":false},"axis":{"offset":-1,"values":[-0.4,-0.2,0],"labelExpr":"datum.value==0?'0':datum.value==-0.2?'-0.2':''","title":"Time to HLL [s]","titleX":67.7,"titleY":20}},"x2":{"field":"b"},"y":{"field":"u","type":"quantitative","scale":{"domain":[0.76,0.8521],"range":[114,2],"nice":false,"zero":false},"axis":{"values":[0.76,0.78,0.8,0.82,0.84],"labelExpr":"datum.value==0.76?'.76':datum.value==0.84?'.84':''","title":"Entropy","titleX":-10,"titleY":63}},"y2":{"field":"w"}}},
{"data":{"values":[
{"g":0,"t":-0.489,"v":0.7633},{"g":0,"t":-0.419,"v":0.7647},{"g":0,"t":-0.372,"v":0.7729},{"g":0,"t":-0.309,"v":0.7797},{"g":0,"t":-0.262,"v":0.7811},{"g":0,"t":-0.184,"v":0.7797},{"g":0,"t":-0.106,"v":0.7825},{"g":0,"t":-0.044,"v":0.7819},{"g":0,"t":0.019,"v":0.7805},{"g":0,"t":0.073,"v":0.7838},{"g":0,"t":0.097,"v":0.7874},{"g":0,"t":0.181,"v":0.7901},
{"g":25,"t":-0.489,"v":0.7633},{"g":25,"t":-0.403,"v":0.7644},{"g":25,"t":-0.341,"v":0.7674},{"g":25,"t":-0.278,"v":0.7729},{"g":25,"t":-0.208,"v":0.7811},{"g":25,"t":-0.153,"v":0.7893},{"g":25,"t":-0.106,"v":0.7948},{"g":25,"t":-0.059,"v":0.7984},{"g":25,"t":0.011,"v":0.7964},{"g":25,"t":0.066,"v":0.7984},{"g":25,"t":0.128,"v":0.8011},{"g":25,"t":0.181,"v":0.8019},
{"g":75,"t":-0.489,"v":0.772},{"g":75,"t":-0.403,"v":0.7756},{"g":75,"t":-0.325,"v":0.7838},{"g":75,"t":-0.262,"v":0.7962},{"g":75,"t":-0.184,"v":0.8104},{"g":75,"t":-0.138,"v":0.814},{"g":75,"t":-0.091,"v":0.8203},{"g":75,"t":-0.044,"v":0.8236},{"g":75,"t":0.003,"v":0.8285},{"g":75,"t":0.05,"v":0.8312},{"g":75,"t":0.097,"v":0.834},{"g":75,"t":0.144,"v":0.8323},{"g":75,"t":0.181,"v":0.8296}]},
"mark":{"type":"line","strokeWidth":2.2,"interpolate":"monotone"},"encoding":{"x":{"field":"t","type":"quantitative"},"y":{"field":"v","type":"quantitative"},"color":{"field":"g","type":"nominal"}}},
{"data":{"values":[{"a":-0.4266,"b":-0.1375,"u":0.8304}]},"mark":{"type":"rule","color":"#888"},"encoding":{"x":{"field":"a","type":"quantitative"},"x2":{"field":"b"},"y":{"field":"u","type":"quantitative"}}},
{"data":{"values":[{"a":-0.4266,"u":0.8304,"w":0.8474}]},"mark":{"type":"rule","color":"#555"},"encoding":{"x":{"field":"a","type":"quantitative"},"y":{"field":"u","type":"quantitative"},"y2":{"field":"w"}}},
{"data":{"values":[{"a":-0.2188,"u":0.8304,"w":0.8474}]},"mark":{"type":"rule","color":"#222","strokeDash":[2,2]},"encoding":{"x":{"field":"a","type":"quantitative"},"y":{"field":"u","type":"quantitative"},"y2":{"field":"w"}}},
{"data":{"values":[{"t":-0.4266,"v":0.8312},{"t":-0.3953,"v":0.8312},{"t":-0.3563,"v":0.8323},{"t":-0.325,"v":0.8351},{"t":-0.3016,"v":0.8386},{"t":-0.2859,"v":0.8373},{"t":-0.2625,"v":0.8414},{"t":-0.2391,"v":0.8419},{"t":-0.2188,"v":0.8449},{"t":-0.1922,"v":0.8433},{"t":-0.1688,"v":0.8414},{"t":-0.1406,"v":0.8386}]},"mark":{"type":"line","color":"#111","strokeWidth":1.3},"encoding":{"x":{"field":"t","type":"quantitative"},"y":{"field":"v","type":"quantitative"}}},
{"data":{"values":[{"a":-0.1016,"b":0.1625,"u":0.849}]},"mark":{"type":"rule","color":"#111","strokeWidth":2.5},"encoding":{"x":{"field":"a","type":"quantitative"},"x2":{"field":"b"},"y":{"field":"u","type":"quantitative"}}},
{"data":{"values":[{"a":-0.1016,"b":0.0297,"u":0.8436}]},"mark":{"type":"rule","color":"#0b8a52","strokeWidth":2.5},"encoding":{"x":{"field":"a","type":"quantitative"},"x2":{"field":"b"},"y":{"field":"u","type":"quantitative"}}},
{"data":{"values":[{"a":0.0297,"b":0.181,"u":0.8436}]},"mark":{"type":"rule","color":"#b8160f","strokeWidth":2.5},"encoding":{"x":{"field":"a","type":"quantitative"},"x2":{"field":"b"},"y":{"field":"u","type":"quantitative"}}},
{"data":{"values":[{"s":"p = 0.016"}]},"mark":{"type":"text"},"encoding":{"text":{"field":"s"},"x":{"datum":-0.281},"y":{"datum":0.8515}}},
{"data":{"values":[{"s":"5"}]},"mark":{"type":"text","fontSize":9},"encoding":{"text":{"field":"s"},"x":{"datum":-0.45},"y":{"datum":0.8441}}},
{"data":{"values":[{"s":"F"}]},"mark":{"type":"text","fontSize":9,"fontStyle":"italic","angle":270},"encoding":{"text":{"field":"s"},"x":{"datum":-0.453},"y":{"datum":0.836}}}]},
{"width":166,"height":115,"layer":[
{"data":{"values":[
{"g":0,"c":0,"l":0,"y":-4.5},{"g":0,"c":0,"l":-0.05,"y":-4},{"g":0,"c":0,"l":-0.17,"y":-3.5},{"g":0,"c":0,"l":-0.36,"y":-3},{"g":0,"c":0,"l":-0.52,"y":-2.44},{"g":0,"c":0,"l":-0.44,"y":-2},{"g":0,"c":0,"l":-0.3,"y":-1.5},{"g":0,"c":0,"l":-0.15,"y":-1.2},{"g":0,"c":0,"l":-0.03,"y":-0.9},{"g":0,"c":0,"l":0,"y":-0.69},
{"g":25,"c":1,"l":1,"y":-4.6},{"g":25,"c":1,"l":0.95,"y":-4},{"g":25,"c":1,"l":0.86,"y":-3.5},{"g":25,"c":1,"l":0.7,"y":-3},{"g":25,"c":1,"l":0.525,"y":-2.27},{"g":25,"c":1,"l":0.6,"y":-1.8},{"g":25,"c":1,"l":0.78,"y":-1.4},{"g":25,"c":1,"l":0.94,"y":-1},{"g":25,"c":1,"l":1,"y":-0.66},
{"g":75,"c":2,"l":2,"y":-4.31},{"g":75,"c":2,"l":1.92,"y":-3.8},{"g":75,"c":2,"l":1.75,"y":-3.3},{"g":75,"c":2,"l":1.55,"y":-2.8},{"g":75,"c":2,"l":1.45,"y":-2.27},{"g":75,"c":2,"l":1.58,"y":-1.8},{"g":75,"c":2,"l":1.8,"y":-1.4},{"g":75,"c":2,"l":1.95,"y":-1.1},{"g":75,"c":2,"l":2,"y":-0.95}]},
"mark":{"type":"area","orient":"horizontal","interpolate":"monotone"},"encoding":{"y":{"field":"y","type":"quantitative","scale":{"domain":[-5,0],"range":[115,1],"nice":false,"zero":false},"axis":{"offset":-2,"values":[-5,-4,-3,-2,-1,0],"labelExpr":"datum.value==-5||datum.value==0?''+datum.value:''","title":"Spectral slope","titleX":-9,"titleY":60.7}},"x":{"field":"l","type":"quantitative","scale":{"domain":[-0.49,2.25],"range":[2,112],"nice":false,"zero":false},"axis":{"values":[0,1,2],"ticks":false,"title":null,"labelExpr":"[0,25,75][datum.value]","labelColor":{"condition":[{"test":"datum.value==0","value":"#199a63"},{"test":"datum.value==1","value":"#f2b90f"}],"value":"#b92a22"}}},"x2":{"field":"c"},"color":{"field":"g","type":"nominal"}}},
{"data":{"values":[
{"g":0,"x":0.18,"y":-1.83},{"g":0,"x":0.21,"y":-2.05},{"g":0,"x":0.23,"y":-2.15},{"g":0,"x":0.15,"y":-2.27},{"g":0,"x":0.19,"y":-2.41},{"g":0,"x":0.18,"y":-2.68},{"g":0,"x":0.23,"y":-3.17},{"g":0,"x":0.19,"y":-3.26},{"g":0,"x":0.15,"y":-3.36},
{"g":25,"x":1.13,"y":-1.9},{"g":25,"x":1.23,"y":-2.05},{"g":25,"x":1.15,"y":-2.1},{"g":25,"x":1.21,"y":-2.34},{"g":25,"x":1.15,"y":-2.59},{"g":25,"x":1.18,"y":-3.17},{"g":25,"x":1.21,"y":-3.3},{"g":25,"x":1.15,"y":-3.36},
{"g":75,"x":2.13,"y":-2},{"g":75,"x":2.25,"y":-2.05},{"g":75,"x":2.14,"y":-2.15},{"g":75,"x":2.18,"y":-2.59},{"g":75,"x":2.25,"y":-2.68},{"g":75,"x":2.23,"y":-3.11},{"g":75,"x":2.23,"y":-3.25},{"g":75,"x":2.18,"y":-3.36}]},
"mark":{"type":"circle","size":32,"opacity":0.75},"encoding":{"x":{"field":"x","type":"quantitative"},"y":{"field":"y","type":"quantitative"},"color":{"field":"g","type":"nominal"}}},
{"data":{"values":[{"g":0,"x":0,"y":-2.57},{"g":25,"x":0.98,"y":-2.54},{"g":75,"x":1.99,"y":-2.54}]},"layer":[
{"mark":{"type":"line","color":"#b5b5b5","strokeWidth":2},"encoding":{"x":{"field":"x","type":"quantitative"},"y":{"field":"y","type":"quantitative"}}},
{"mark":{"type":"circle","size":60,"stroke":"#111","strokeWidth":2,"opacity":1},"encoding":{"x":{"field":"x","type":"quantitative"},"y":{"field":"y","type":"quantitative"},"color":{"field":"g","type":"nominal"}}}]},
{"data":{"values":[{"p":"p = 0.47"}]},"mark":{"type":"text"},"encoding":{"text":{"field":"p"},"x":{"datum":1.04},"y":{"datum":-0.15}}}]},
{"width":147,"height":115,"layer":[
{"data":{"values":[
{"g":0,"t":-0.489,"v":0.7529},{"g":0,"t":-0.41,"v":0.7537},{"g":0,"t":-0.314,"v":0.7542},{"g":0,"t":-0.267,"v":0.7578},{"g":0,"t":-0.203,"v":0.7688},{"g":0,"t":-0.14,"v":0.7786},{"g":0,"t":-0.092,"v":0.7895},{"g":0,"t":-0.044,"v":0.7944},{"g":0,"t":0.019,"v":0.7981},{"g":0,"t":0.067,"v":0.7956},{"g":0,"t":0.114,"v":0.7908},{"g":0,"t":0.154,"v":0.7847},{"g":0,"t":0.197,"v":0.7786},
{"g":25,"t":-0.489,"v":0.7524},{"g":25,"t":-0.425,"v":0.75},{"g":25,"t":-0.37,"v":0.7485},{"g":25,"t":-0.33,"v":0.75},{"g":25,"t":-0.283,"v":0.7554},{"g":25,"t":-0.203,"v":0.7664},{"g":25,"t":-0.14,"v":0.7749},{"g":25,"t":-0.076,"v":0.7871},{"g":25,"t":-0.013,"v":0.7969},{"g":25,"t":0.035,"v":0.803},{"g":25,"t":0.082,"v":0.8067},{"g":25,"t":0.114,"v":0.8054},{"g":25,"t":0.154,"v":0.7998},{"g":25,"t":0.197,"v":0.7949},
{"g":75,"t":-0.489,"v":0.7664},{"g":75,"t":-0.441,"v":0.7622},{"g":75,"t":-0.394,"v":0.7554},{"g":75,"t":-0.354,"v":0.7534},{"g":75,"t":-0.314,"v":0.7566},{"g":75,"t":-0.267,"v":0.7639},{"g":75,"t":-0.203,"v":0.7712},{"g":75,"t":-0.14,"v":0.7798},{"g":75,"t":-0.092,"v":0.7956},{"g":75,"t":-0.044,"v":0.8115},{"g":75,"t":-0.005,"v":0.8176},{"g":75,"t":0.019,"v":0.8193},{"g":75,"t":0.051,"v":0.8176},{"g":75,"t":0.098,"v":0.8103},{"g":75,"t":0.154,"v":0.7981},{"g":75,"t":0.197,"v":0.7949}]},
"mark":{"type":"line","strokeWidth":2.2,"interpolate":"monotone"},"encoding":{"x":{"field":"t","type":"quantitative","scale":{"domain":[-0.489,0.197],"range":[0,144],"nice":false,"zero":false},"axis":{"offset":-1,"values":[-0.4,-0.2,0],"labelExpr":"datum.value==0?'0':datum.value==-0.2?'-0.2':''","title":"Time to HLL [s]","titleX":67,"titleY":20}},"y":{"field":"v","type":"quantitative","scale":{"domain":[0.74,0.822],"range":[114,2],"nice":false,"zero":false},"axis":{"values":[0.74,0.76,0.78,0.8,0.82],"labelExpr":"datum.value==0.74?'.74':datum.value==0.82?'.82':''","title":"Entropy","titleX":-10.3,"titleY":58}},"color":{"field":"g","type":"nominal"}}},
{"data":{"values":[{"a":-0.4222,"b":-0.127,"u":0.8029}]},"mark":{"type":"rule","color":"#555"},"encoding":{"x":{"field":"a","type":"quantitative"},"x2":{"field":"b"},"y":{"field":"u","type":"quantitative"}}},
{"data":{"values":[{"a":-0.4222,"u":0.8029,"w":0.8176}]},"mark":{"type":"rule","color":"#555"},"encoding":{"x":{"field":"a","type":"quantitative"},"y":{"field":"u","type":"quantitative"},"y2":{"field":"w"}}},
{"data":{"values":[{"a":-0.2079,"u":0.8029,"w":0.8176}]},"mark":{"type":"rule","color":"#222","strokeDash":[2,2]},"encoding":{"x":{"field":"a","type":"quantitative"},"y":{"field":"u","type":"quantitative"},"y2":{"field":"w"}}},
{"data":{"values":[{"t":-0.4222,"v":0.8054},{"t":-0.3936,"v":0.8037},{"t":-0.2984,"v":0.8029},{"t":-0.2667,"v":0.8037},{"t":-0.2428,"v":0.8078},{"t":-0.219,"v":0.811},{"t":-0.2079,"v":0.811},{"t":-0.1873,"v":0.8066},{"t":-0.1635,"v":0.8054},{"t":-0.1318,"v":0.8061}]},"mark":{"type":"line","color":"#111","strokeWidth":1.3,"interpolate":"monotone"},"encoding":{"x":{"field":"t","type":"quantitative"},"y":{"field":"v","type":"quantitative"}}},
{"data":{"values":[{"s":"p = 0.29"}]},"mark":{"type":"text"},"encoding":{"text":{"field":"s"},"x":{"datum":-0.277},"y":{"datum":0.8217}}},
{"data":{"values":[{"s":"5"}]},"mark":{"type":"text","fontSize":9},"encoding":{"text":{"field":"s"},"x":{"datum":-0.446},"y":{"datum":0.8144}}},
{"data":{"values":[{"s":"F"}]},"mark":{"type":"text","fontSize":9,"fontStyle":"italic","angle":270},"encoding":{"text":{"field":"s"},"x":{"datum":-0.449},"y":{"datum":0.8078}}}]}
]}
